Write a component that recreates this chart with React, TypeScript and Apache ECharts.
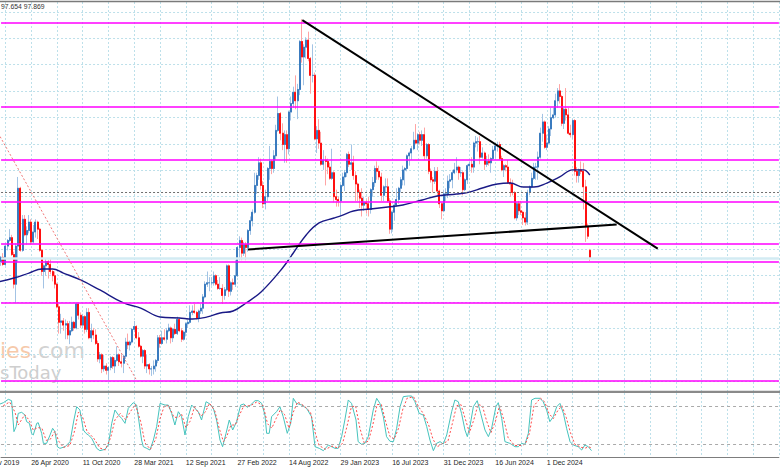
import React, { useEffect, useRef } from 'react';
import * as echarts from 'echarts';

// ---------- axis / labels ----------
// week numbers count from 10 Nov 2019 (week 0); the visible plot runs from week 10 to week 372
const FIRST_SHOWN_WEEK = 10;
const LAST_SHOWN_WEEK = 372;
const FIRST_WEEK = 9; // first candle in the data arrays: week of 12 Jan 2020
const TICK_STEP = 24;
const GRID_STEP = 12;
const TICK_LABELS = [
  '10 Nov 2019', '26 Apr 2020', '11 Oct 2020', '28 Mar 2021', '12 Sep 2021', '27 Feb 2022',
  '14 Aug 2022', '29 Jan 2023', '16 Jul 2023', '31 Dec 2023', '16 Jun 2024', '1 Dec 2024',
];
const HEADER_TEXT = '97.654 97.869';

// ---------- weekly candles (from week 9 to week 284) ----------
const OPENS = [
  97.3, 97.6, 97.9, 97.4, 98.7, 99.1, 99.3, 98.1, 96.0, 98.7, 102.8, 98.4, 100.6, 99.5, 99.8, 100.4, 99.0, 99.7, 100.4, 99.9, 98.4, 96.9, 97.3, 97.6, 97.4, 96.9, 96.6, 96.0, 94.4, 93.3, 93.4, 93.1, 93.2, 92.4, 92.7, 93.3, 92.9, 94.6, 93.8, 93.1, 93.7, 92.8, 94.0, 92.2, 92.7, 92.4, 91.8, 90.7, 91.0, 90.0, 90.2,
  89.9, 90.1, 90.8, 90.2, 90.6, 91.0, 90.5, 90.4, 90.9, 91.9, 91.7, 91.9, 92.8, 93.0, 92.2, 91.6, 90.9, 91.3, 90.2, 90.3, 90.0, 90.0, 90.2, 90.6, 92.2, 91.8, 92.2, 92.1, 92.7, 92.9, 92.2, 92.8, 92.5, 93.5, 92.7, 92.1, 92.6, 93.2, 93.3, 94.0, 94.1, 94.0, 93.6, 94.1, 94.3, 95.1, 96.0, 96.1, 96.1, 96.1, 96.6, 96.0,
  95.7, 95.7, 95.2, 95.6, 97.3, 95.5, 96.1, 96.0, 96.6, 98.6, 99.1, 98.2, 98.8, 98.6, 99.8, 100.5, 101.1, 103.0, 103.7, 104.6, 103.0, 101.7, 102.2, 104.2, 104.7, 104.2, 105.1, 106.9, 108.1, 106.7, 105.9, 106.6, 105.6, 108.2, 108.8, 109.6, 109.0, 109.8, 113.2, 112.1, 112.8, 113.3, 112.0, 110.8, 110.8, 106.3, 106.9, 106.0, 104.5, 104.8, 104.7, 104.3,
  103.5, 103.9, 102.2, 102.0, 101.9, 103.0, 103.6, 103.9, 105.2, 104.5, 104.6, 103.7, 103.1, 102.5, 102.1, 101.6, 101.8, 101.7, 101.3, 102.7, 103.2, 104.2, 104.0, 103.6, 102.3, 102.9, 102.9, 101.9, 99.9, 101.1, 101.6, 102.0, 102.8, 103.4, 104.1, 104.2, 105.1, 105.3, 105.6, 106.2, 106.0, 106.6, 106.2, 106.6, 105.1, 105.9, 104.0, 103.4, 103.3, 104.0, 102.6, 101.7,
  101.2, 102.4, 102.4, 103.3, 103.4, 103.9, 104.1, 104.3, 103.9, 103.9, 102.7, 103.4, 104.4, 104.5, 104.3, 106.0, 106.1, 106.1, 105.0, 105.3, 104.5, 104.7, 104.6, 104.9, 105.5, 105.8, 105.9, 104.9, 104.1, 104.4, 104.3, 103.2, 103.1, 102.5, 100.7, 101.7, 101.2, 101.1, 100.7, 100.4, 102.5, 102.9, 103.5, 104.3, 104.3, 105.0, 106.7, 107.5, 105.7, 106.0, 107.0, 107.8, 108.0,
  109.0, 109.7, 109.3, 107.4, 108.4, 108.0, 106.7, 106.6, 107.6, 104.0, 103.7, 104.1, 104.0, 102.9, 100.1, 98.4,
];
const HIGHS = [
  97.8, 98.0, 98.2, 98.8, 99.2, 99.9, 99.5, 98.3, 98.9, 103.6, 102.9, 100.9, 100.9, 100.1, 100.9, 100.6, 100.2, 100.6, 100.5, 100.0, 98.5, 97.4, 97.8, 97.7, 97.8, 97.0, 96.9, 96.1, 94.6, 93.9, 93.6, 93.5, 93.4, 93.4, 93.7, 93.4, 94.7, 94.7, 94.0, 93.9, 93.8, 94.3, 94.3, 93.2, 92.9, 92.8, 92.0, 91.2, 91.1, 91.0, 90.4,
  90.2, 90.9, 90.9, 90.8, 91.6, 91.1, 91.0, 91.0, 92.2, 92.5, 92.0, 92.9, 93.4, 93.1, 92.6, 91.7, 91.4, 91.4, 91.0, 90.4, 90.2, 90.6, 90.7, 92.4, 92.4, 92.7, 92.8, 92.9, 93.2, 93.0, 92.9, 93.2, 93.7, 93.6, 92.9, 92.7, 93.3, 93.5, 94.5, 94.5, 94.6, 94.1, 94.2, 94.6, 95.3, 96.2, 96.9, 96.5, 96.5, 96.9, 96.7, 96.3,
  96.5, 96.0, 95.8, 97.4, 97.4, 96.2, 96.4, 97.7, 98.7, 99.4, 99.3, 99.0, 99.0, 99.9, 100.8, 101.3, 103.9, 103.9, 105.0, 104.9, 103.3, 102.7, 104.3, 105.8, 104.8, 105.5, 107.3, 109.3, 108.2, 107.4, 106.9, 106.9, 108.3, 109.3, 110.0, 110.8, 110.2, 113.3, 114.78, 113.0, 113.5, 113.9, 112.1, 113.0, 111.0, 107.2, 107.7, 106.8, 105.5, 105.1, 104.9, 104.6,
  105.6, 104.0, 102.7, 102.2, 103.1, 103.9, 104.1, 105.3, 105.4, 105.9, 105.1, 104.0, 103.2, 102.7, 102.8, 102.2, 102.0, 102.2, 102.8, 103.6, 104.4, 104.7, 104.4, 103.9, 103.0, 103.5, 103.5, 102.1, 101.2, 101.8, 102.8, 102.9, 103.6, 104.4, 104.3, 105.2, 105.4, 105.8, 106.8, 107.35, 106.7, 106.8, 106.9, 107.1, 106.0, 106.0, 104.2, 103.6, 104.3, 104.3, 102.7, 101.8,
  102.7, 102.8, 103.7, 103.8, 104.1, 104.6, 105.0, 104.4, 104.3, 104.0, 103.5, 104.5, 104.7, 105.0, 106.1, 106.5, 106.4, 106.5, 105.7, 105.4, 105.1, 105.2, 105.0, 105.8, 105.9, 106.1, 106.1, 105.1, 104.5, 104.5, 104.8, 103.5, 103.4, 102.6, 101.8, 101.9, 101.9, 101.2, 101.1, 102.7, 103.0, 103.9, 104.6, 104.6, 105.4, 107.1, 108.07, 107.6, 106.6, 107.2, 108.5, 108.5, 109.5,
  109.9, 110.18, 109.4, 108.5, 109.9, 108.5, 107.3, 107.7, 107.7, 104.3, 104.2, 104.7, 104.6, 103.4, 100.3, 98.5,
];
const LOWS = [
  97.1, 97.3, 97.3, 97.3, 98.4, 99.0, 98.0, 95.7, 94.65, 97.6, 98.3, 98.3, 99.4, 98.8, 99.6, 98.8, 98.9, 99.3, 99.2, 98.3, 96.6, 95.7, 96.6, 96.4, 96.7, 96.2, 95.7, 94.3, 92.5, 92.5, 92.7, 92.1, 92.1, 91.75, 92.6, 92.7, 92.8, 93.5, 92.9, 92.9, 92.5, 92.6, 92.1, 91.9, 92.1, 91.7, 90.5, 90.4, 89.7, 89.8, 89.6,
  89.2, 89.9, 90.0, 89.7, 90.5, 90.2, 90.1, 89.7, 90.7, 91.4, 91.3, 91.8, 92.6, 92.1, 91.5, 90.8, 90.4, 90.0, 89.7, 89.6, 89.5, 89.6, 89.8, 90.4, 91.5, 91.7, 92.0, 91.8, 92.6, 91.8, 91.9, 92.4, 92.4, 92.6, 91.9, 92.0, 92.3, 92.9, 93.2, 93.8, 93.9, 93.5, 93.3, 93.9, 93.9, 95.0, 95.8, 95.5, 95.9, 95.9, 95.9, 95.6,
  95.6, 94.6, 94.9, 95.5, 95.1, 95.2, 95.6, 95.8, 96.5, 97.7, 97.7, 98.0, 97.7, 98.3, 99.5, 100.1, 101.0, 102.4, 103.4, 102.7, 101.4, 101.3, 101.9, 103.4, 103.8, 103.9, 104.8, 106.8, 106.2, 105.5, 104.6, 104.6, 105.2, 107.6, 108.5, 108.4, 107.7, 109.4, 111.7, 110.1, 112.0, 111.8, 109.5, 110.3, 106.2, 105.3, 105.6, 104.4, 104.1, 103.0, 103.8, 103.4,
  103.4, 101.8, 101.5, 101.5, 100.8, 102.9, 102.6, 103.6, 104.3, 104.1, 103.4, 101.9, 101.9, 101.4, 100.8, 101.2, 101.0, 100.8, 101.0, 102.2, 102.9, 103.4, 103.4, 101.9, 101.9, 102.5, 101.8, 99.57, 99.6, 100.5, 101.5, 101.7, 102.5, 103.0, 103.0, 104.0, 104.4, 104.8, 105.5, 105.9, 105.5, 105.9, 105.8, 104.8, 104.9, 103.8, 103.2, 102.5, 103.1, 102.2, 101.4, 100.6,
  101.1, 101.9, 102.1, 102.8, 102.8, 103.8, 103.9, 103.4, 103.6, 102.3, 102.6, 103.1, 104.1, 103.9, 103.9, 105.7, 105.4, 104.5, 104.9, 104.1, 104.3, 104.4, 103.9, 104.8, 104.9, 105.4, 104.8, 104.0, 103.6, 104.0, 103.1, 102.2, 102.3, 100.6, 100.5, 100.9, 100.9, 100.2, 100.16, 100.2, 102.3, 102.8, 103.4, 103.4, 103.4, 104.9, 106.1, 105.6, 105.5, 105.9, 106.5, 107.7, 107.8,
  108.5, 108.8, 107.2, 107.0, 107.6, 106.6, 106.4, 106.3, 103.7, 103.2, 103.2, 103.8, 101.3, 99.0, 99.2, 97.654,
];
const CLOSES = [
  97.6, 97.9, 97.4, 98.7, 99.1, 99.3, 98.1, 96.0, 98.7, 102.8, 98.4, 100.6, 99.5, 99.8, 100.4, 99.0, 99.7, 100.4, 99.9, 98.4, 96.9, 97.3, 97.6, 97.4, 96.9, 96.6, 96.0, 94.4, 93.3, 93.4, 93.1, 93.2, 92.4, 92.7, 93.3, 92.9, 94.6, 93.8, 93.1, 93.7, 92.8, 94.0, 92.2, 92.7, 92.4, 91.8, 90.7, 91.0, 90.0, 90.2, 89.9,
  90.1, 90.8, 90.2, 90.6, 91.0, 90.5, 90.4, 90.9, 91.9, 91.7, 91.9, 92.8, 93.0, 92.2, 91.6, 90.9, 91.3, 90.2, 90.3, 90.0, 90.0, 90.2, 90.6, 92.2, 91.8, 92.2, 92.1, 92.7, 92.9, 92.2, 92.8, 92.5, 93.5, 92.7, 92.1, 92.6, 93.2, 93.3, 94.0, 94.1, 94.0, 93.6, 94.1, 94.3, 95.1, 96.0, 96.1, 96.1, 96.1, 96.6, 96.0, 95.7,
  95.7, 95.2, 95.6, 97.3, 95.5, 96.1, 96.0, 96.6, 98.6, 99.1, 98.2, 98.8, 98.6, 99.8, 100.5, 101.1, 103.0, 103.7, 104.6, 103.0, 101.7, 102.2, 104.2, 104.7, 104.2, 105.1, 106.9, 108.1, 106.7, 105.9, 106.6, 105.6, 108.2, 108.8, 109.6, 109.0, 109.8, 113.2, 112.1, 112.8, 113.3, 112.0, 110.8, 110.8, 106.3, 106.9, 106.0, 104.5, 104.8, 104.7, 104.3, 103.5,
  103.9, 102.2, 102.0, 101.9, 103.0, 103.6, 103.9, 105.2, 104.5, 104.6, 103.7, 103.1, 102.5, 102.1, 101.6, 101.8, 101.7, 101.3, 102.7, 103.2, 104.2, 104.0, 103.6, 102.3, 102.9, 102.9, 101.9, 99.9, 101.1, 101.6, 102.0, 102.8, 103.4, 104.1, 104.2, 105.1, 105.3, 105.6, 106.2, 106.0, 106.6, 106.2, 106.6, 105.1, 105.9, 104.0, 103.4, 103.3, 104.0, 102.6, 101.7, 101.2,
  102.4, 102.4, 103.3, 103.4, 103.9, 104.1, 104.3, 103.9, 103.9, 102.7, 103.4, 104.4, 104.5, 104.3, 106.0, 106.1, 106.1, 105.0, 105.3, 104.5, 104.7, 104.6, 104.9, 105.5, 105.8, 105.9, 104.9, 104.1, 104.4, 104.3, 103.2, 103.1, 102.5, 100.7, 101.7, 101.2, 101.1, 100.7, 100.4, 102.5, 102.9, 103.5, 104.3, 104.3, 105.0, 106.7, 107.5, 105.7, 106.0, 107.0, 107.8, 108.0, 109.0,
  109.7, 109.3, 107.4, 108.4, 108.0, 106.7, 106.6, 107.6, 104.0, 103.7, 104.1, 104.0, 102.9, 100.1, 99.4, 97.869,
];

// ---------- moving average (week, value) ----------
const MA_POINTS = [
  [9, 96.18], [16, 96.44], [23, 96.79], [29, 97.08], [34, 97.08], [39, 96.79], [47, 96.3], [56, 95.59],
  [67, 94.67], [75, 94.31], [84, 93.68], [93, 93.6], [99, 93.53], [106, 93.68], [112, 93.96], [118, 94.1],
  [124, 94.67], [131, 95.45], [141, 97.15], [146, 98.21], [152, 99.49], [158, 100.34], [165, 100.69],
  [169, 100.9], [174, 101.19], [182, 101.33], [190, 101.47], [197, 101.61], [206, 101.97], [213, 102.25],
  [222, 102.39], [228, 102.53], [234, 102.82], [241, 103.1], [247, 103.17], [253, 102.89], [258, 102.89],
  [264, 103.17], [270, 103.6], [276, 104.1], [281, 104.1], [284, 103.74],
];

// ---------- drawn objects (week, price) ----------
const MAGENTA_LEVELS = [114.51, 108.56, 104.8, 101.83, 98.85, 97.57, 94.67, 89.14];
const DOTTED_LEVEL = 102.53;
const BID_LEVEL = 97.869;
const TREND_DOWN = [[150.2, 114.72], [315.6, 98.52]];
const TREND_UP = [[124.9, 98.46], [296.5, 100.23]];
const OLD_TREND = [[5, 107.7], [73.1, 89.18]];

// ---------- stochastic (week, value) ----------
const STOCH_LEVELS = [80, 20];
const STOCH_K = [
  [9.5, 82.8], [11.1, 84.9], [13.4, 90.1], [14.9, 88.0], [16.0, 39.6], [17.0, 47.4], [18.0, 68.2], [19.6, 69.8], [21.1, 65.6], [21.9, 55.2],
  [23.2, 52.6], [24.2, 37.0], [25.0, 34.4], [26.6, 52.6], [27.3, 53.6], [28.9, 37.0], [29.7, 21.3], [31.2, 21.3], [32.8, 34.4], [34.0, 44.8],
  [35.1, 39.6], [36.2, 16.1], [37.4, 13.5], [39.8, 16.1], [42.1, 23.9], [43.9, 57.8], [45.2, 78.6], [46.7, 73.4], [48.3, 42.2], [49.5, 37.0],
  [50.6, 34.4], [52.2, 29.2], [54.5, 13.5], [56.0, 9.9], [58.4, 12.0], [59.9, 18.7], [61.5, 52.6], [63.0, 73.4], [64.6, 65.6], [66.1, 60.4],
  [67.7, 52.6], [69.2, 76.0], [71.5, 84.9], [73.1, 81.2], [75.4, 26.5], [76.2, 16.1], [77.8, 13.5], [79.3, 10.9], [80.9, 26.5], [82.4, 47.4],
  [84.0, 83.8], [86.3, 81.2], [87.8, 81.2], [89.4, 68.2], [90.9, 50.0], [92.5, 70.8], [94.0, 63.0], [95.6, 34.4], [97.1, 63.0], [98.7, 81.2],
  [100.2, 76.0], [101.8, 70.8], [103.3, 57.8], [105.4, 86.4], [107.2, 82.8], [108.8, 76.0], [110.3, 57.8], [111.9, 26.5], [113.1, 16.1], [114.7, 37.0],
  [116.2, 57.8], [117.8, 42.2], [119.6, 55.2], [121.5, 81.2], [123.0, 82.8], [124.6, 77.6], [126.1, 81.2], [128.2, 88.0], [129.7, 88.0], [131.3, 83.8],
  [132.8, 65.6], [133.6, 37.0], [134.8, 37.0], [135.9, 63.0], [138.2, 70.8], [139.8, 78.6], [141.3, 63.0], [143.2, 37.0], [144.8, 52.6], [146.0, 91.7],
  [147.5, 83.8], [149.9, 81.2], [152.2, 76.0], [154.5, 63.0], [156.1, 16.1], [158.1, 13.5], [160.0, 9.9], [162.3, 18.7], [163.8, 16.1], [165.4, 13.5],
  [166.9, 13.5], [168.5, 31.8], [170.0, 57.8], [171.6, 89.1], [173.1, 83.8], [175.2, 57.8], [176.2, 23.9], [177.8, 19.8], [179.3, 21.3], [180.9, 31.8],
  [183.2, 73.4], [184.8, 91.7], [186.3, 83.8], [187.9, 63.0], [189.4, 31.8], [191.0, 24.5], [192.6, 24.0], [194.1, 44.8], [195.7, 78.6], [197.2, 94.3],
  [199.5, 95.3], [201.1, 95.3], [202.6, 86.4], [204.6, 68.2], [206.5, 65.6], [208.1, 47.4], [209.6, 26.5], [211.2, 9.9], [212.7, 21.3], [214.3, 24.0],
  [215.8, 20.3], [217.4, 34.4], [219.7, 70.8], [221.2, 89.1], [222.8, 86.4], [224.3, 68.2], [225.9, 42.2], [227.0, 31.8], [228.2, 47.4], [229.8, 78.6],
  [231.6, 88.0], [233.2, 68.2], [235.2, 42.2], [236.8, 31.8], [238.3, 44.8], [240.3, 78.6], [241.4, 84.9], [243.0, 60.4], [244.5, 24.0], [246.8, 21.3],
  [249.2, 16.1], [250.7, 16.1], [252.3, 21.3], [253.8, 19.8], [255.4, 37.0], [256.9, 89.1], [258.5, 91.7], [260.8, 91.7], [262.3, 86.4], [263.9, 73.4],
  [265.4, 55.2], [267.0, 63.0], [268.6, 78.6], [270.1, 83.8], [271.7, 68.2], [273.2, 44.8], [274.8, 24.0], [276.3, 18.7], [278.6, 16.1], [280.2, 10.9],
  [281.7, 18.7], [283.3, 16.1], [284.8, 9.9],
];
const STOCH_D = [
  [11, 80], [14, 86], [16.5, 70], [18, 50], [19.5, 58], [21, 66], [23, 58], [25, 42], [27, 46], [29, 45], [31, 26], [33, 28], [35, 40],
  [37, 24], [39, 15], [42, 18], [44, 38], [46, 70], [48, 62], [50, 40], [53, 30], [56, 14], [58.5, 11], [61, 30], [63, 58], [65.5, 68],
  [68, 58], [70, 70], [72.5, 82], [75, 55], [77, 22], [79.5, 12], [82, 28], [84, 60], [86, 80], [88, 80], [90.5, 62], [92.5, 62], [94, 67],
  [96, 46], [98, 56], [100, 78], [103, 64], [105, 70], [107, 84], [109.5, 72], [111.5, 45], [113.5, 24], [115, 32], [117, 50], [119, 50],
  [121, 66], [123, 80], [126, 80], [129, 86], [132, 80], [134, 52], [136, 45], [138, 60], [140, 74], [142, 66], [144, 45], [146, 70],
  [148, 86], [151, 80], [154, 70], [156, 40], [158, 18], [161, 12], [164, 17], [167, 14], [169, 22], [171, 48], [173, 78], [175, 80],
  [177, 45], [179, 22], [181, 25], [183, 50], [185, 82], [187, 82], [189, 55], [191, 32], [193, 28], [195, 45], [197, 75], [199, 92],
  [202, 94], [204, 80], [206.5, 68], [209, 50], [211, 28], [213, 16], [215.5, 21], [218, 25], [220, 52], [222, 80], [224, 82], [226, 60],
  [228, 38], [230, 58], [232, 82], [234, 80], [236, 56], [238, 38], [240, 55], [242, 80], [244, 58], [246, 30], [249, 18], [252, 18],
  [254, 20], [256, 38], [258, 80], [261, 92], [263, 86], [265, 68], [267, 60], [269, 72], [271, 80], [273, 62], [275, 38], [277, 20],
  [280, 15], [282, 14], [283.5, 16], [284.8, 14],
];

// ---------- build series data ----------
const categories: string[] = [];
for (let w = FIRST_SHOWN_WEEK; w <= LAST_SHOWN_WEEK; w++) categories.push(String(w));

const wickData: any[] = [];
const bodyData: any[] = [];
for (let w = FIRST_SHOWN_WEEK; w < FIRST_WEEK + CLOSES.length; w++) {
  const k = w - FIRST_WEEK;
  const o = OPENS[k];
  const c = CLOSES[k];
  const hi = Math.max(HIGHS[k], o, c);
  const lo = Math.min(LOWS[k], o, c);
  wickData.push([o, c, lo, hi]);
  bodyData.push([o, c, Math.min(o, c), Math.max(o, c)]);
}

const weekOf = (idx: number) => idx + FIRST_SHOWN_WEEK;
const GRID_LINE = { color: '#bde0ea', type: [2, 2] as any, width: 1 };
const GRID_LEFT = 1.06;
const GRID_RIGHT = 1.1;
const LABEL_FONT = { fontSize: 7, fontFamily: 'Liberation Sans', color: '#1e1e1e' };

const buildOption = (): any => ({
  animation: false,
  backgroundColor: '#ffffff',
  grid: [
    { left: GRID_LEFT, right: GRID_RIGHT, top: 2, height: 390 },
    { left: GRID_LEFT, right: GRID_RIGHT, top: 393, height: 64 },
    { left: GRID_LEFT, right: GRID_RIGHT, top: 12, height: 369 },
  ],
  xAxis: [
    {
      type: 'category', gridIndex: 0, data: categories, boundaryGap: false,
      axisLine: { show: false }, axisTick: { show: false }, axisLabel: { show: false },
      splitLine: { show: true, interval: (i: number) => weekOf(i) % GRID_STEP === 0, lineStyle: GRID_LINE },
    },
    { type: 'value', gridIndex: 0, min: FIRST_SHOWN_WEEK, max: LAST_SHOWN_WEEK, show: false },
    {
      type: 'category', gridIndex: 1, data: categories, boundaryGap: false,
      axisLine: { show: true, lineStyle: { color: '#7d7d7d', width: 1 } },
      axisTick: { show: false },
      axisLabel: {
        show: true,
        interval: (i: number) => weekOf(i) % TICK_STEP === 0 && weekOf(i) / TICK_STEP < TICK_LABELS.length,
        formatter: (_v: string, i: number) => TICK_LABELS[weekOf(i) / TICK_STEP] || '',
        align: 'left', margin: 2, ...LABEL_FONT,
      },
      splitLine: { show: true, interval: (i: number) => weekOf(i) % GRID_STEP === 0, lineStyle: GRID_LINE },
    },
    { type: 'value', gridIndex: 1, min: FIRST_SHOWN_WEEK, max: LAST_SHOWN_WEEK, show: false },
    { type: 'value', gridIndex: 2, min: 0, max: 1, show: false },
  ],
  yAxis: [
    { type: 'value', gridIndex: 0, min: 88.36, max: 116.0, show: false },
    { type: 'value', gridIndex: 1, min: 0, max: 100, show: false },
    {
      type: 'value', gridIndex: 2, min: 0, max: 14, interval: 1,
      axisLine: { show: false }, axisTick: { show: false }, axisLabel: { show: false },
      splitLine: { show: true, lineStyle: GRID_LINE },
    },
  ],
  series: [
    {
      type: 'candlestick', xAxisIndex: 0, yAxisIndex: 0, data: wickData, barWidth: 1.5, z: 2,
      itemStyle: { color: '#a3c3e4', color0: '#ffa4a4', borderColor: '#a3c3e4', borderColor0: '#ffa4a4', borderWidth: 1 },
    },
    {
      type: 'candlestick', xAxisIndex: 0, yAxisIndex: 0, data: bodyData, barWidth: 1.5, z: 3,
      itemStyle: { color: '#3a7bbf', color0: '#ff1010', borderColor: '#3a7bbf', borderColor0: '#ff1010', borderWidth: 1 },
      markLine: {
        silent: true, symbol: ['none', 'none'], label: { show: false }, animation: false,
        data: [
          ...MAGENTA_LEVELS.map((v) => ({ yAxis: v, lineStyle: { color: '#ff00ff', width: 1.5, type: 'solid' } })),
          { yAxis: DOTTED_LEVEL, lineStyle: { color: '#6e6e6e', width: 1, type: [2, 2] } },
          { yAxis: BID_LEVEL, lineStyle: { color: '#d3ebf3', width: 2.5, type: 'solid' } },
        ],
      },
    },
    {
      type: 'line', xAxisIndex: 1, yAxisIndex: 0, data: MA_POINTS, smooth: 0.4, showSymbol: false, z: 4,
      lineStyle: { color: '#1a1a86', width: 1.4 },
    },
    {
      type: 'line', xAxisIndex: 1, yAxisIndex: 0, data: TREND_DOWN, showSymbol: false, z: 5,
      lineStyle: { color: '#000000', width: 2 },
    },
    {
      type: 'line', xAxisIndex: 1, yAxisIndex: 0, data: TREND_UP, showSymbol: false, z: 5,
      lineStyle: { color: '#000000', width: 2 },
    },
    {
      type: 'line', xAxisIndex: 1, yAxisIndex: 0, data: OLD_TREND, showSymbol: false, z: 5,
      lineStyle: { color: '#f07878', width: 1, type: [2, 2] },
    },
    {
      type: 'line', xAxisIndex: 3, yAxisIndex: 1, data: STOCH_K, showSymbol: false, z: 4,
      lineStyle: { color: '#46c3bd', width: 1 },
      markLine: {
        silent: true, symbol: ['none', 'none'], label: { show: false }, animation: false,
        lineStyle: { color: '#aaaaaa', width: 1, type: [3, 3] },
        data: STOCH_LEVELS.map((v) => ({ yAxis: v })),
      },
    },
    {
      type: 'line', xAxisIndex: 3, yAxisIndex: 1, data: STOCH_D, showSymbol: false, z: 4,
      lineStyle: { color: '#ff4a4a', width: 1, type: [2, 2] },
    },
  ],
  graphic: [
    { type: 'text', x: 0, y: 350, z: 0, style: { text: 'ies', fontSize: 22, fontFamily: 'DejaVu Sans', fill: '#f6c9aa', verticalAlign: 'middle' } },
    { type: 'text', x: 31, y: 350, z: 0, style: { text: '.com', fontSize: 22, fontFamily: 'DejaVu Sans', fill: '#d2d2d2', verticalAlign: 'middle' } },
    { type: 'text', x: 0, y: 372, z: 0, style: { text: 'sToday', fontSize: 18, fontFamily: 'DejaVu Sans', fill: '#cecece', verticalAlign: 'middle' } },
    { type: 'text', x: 1, y: 6, z: 10, style: { text: HEADER_TEXT, fontSize: 6.8, fontFamily: 'Liberation Sans', fill: '#333333', verticalAlign: 'middle' } },
    { type: 'line', z: 10, shape: { x1: 0, y1: 1.5, x2: 780, y2: 1.5 }, style: { stroke: '#7a7a7a', lineWidth: 1.5 } },
    { type: 'rect', z: 10, shape: { x: 0, y: 390.8, width: 780, height: 2.2 }, style: { fill: '#8a8a8a' } },
  ],
});

export default function App() {
  const ref = useRef<HTMLDivElement>(null);
  useEffect(() => {
    document.body.style.margin = '0';
    const chart = echarts.init(ref.current as HTMLDivElement, undefined, { renderer: 'svg' });
    chart.setOption(buildOption());
    // the first tick label (week 0) lies left of the plot: place it through the axis scale
    const x0 = chart.convertToPixel({ xAxisIndex: 3 }, 0) as number;
    chart.setOption({
      graphic: [
        {
          id: 'firstTick', type: 'text', x: x0, y: 459, z: 10,
          style: { text: TICK_LABELS[0], fontSize: LABEL_FONT.fontSize, fontFamily: LABEL_FONT.fontFamily, fill: LABEL_FONT.color, verticalAlign: 'top' },
        },
      ],
    });
    return () => chart.dispose();
  }, []);
  return <div ref={ref} style={{ width: 780, height: 470, background: '#ffffff' }} />;
}
